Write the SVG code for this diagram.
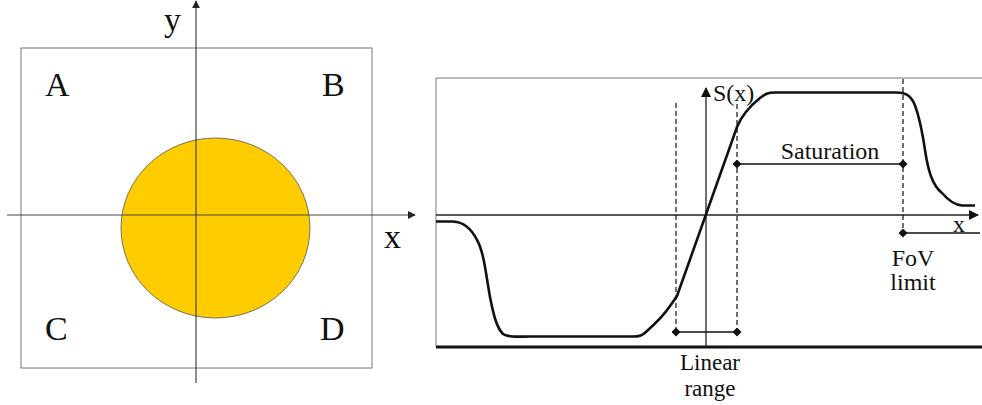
<svg xmlns="http://www.w3.org/2000/svg" width="982" height="405" viewBox="0 0 982 405">
<style>
.ax{stroke:#444;stroke-width:1.2;fill:none}
.dash{stroke:#111;stroke-width:1.2;stroke-dasharray:5,3;fill:none}
.dim{stroke:#111;stroke-width:1.3;fill:none}
</style>
<defs>
<marker id="arr" viewBox="0 0 10 10" refX="9" refY="5" markerWidth="8" markerHeight="8" markerUnits="userSpaceOnUse" orient="auto"><path d="M0,0 L10,5 L0,10 z" fill="#222"/></marker>
<marker id="arr2" viewBox="0 0 10 10" refX="9" refY="5" markerWidth="10" markerHeight="10" markerUnits="userSpaceOnUse" orient="auto"><path d="M0,0 L10,5 L0,10 z" fill="#111"/></marker>
<marker id="dia" viewBox="0 0 10 10" refX="5" refY="5" markerWidth="9" markerHeight="9" markerUnits="userSpaceOnUse" orient="auto"><path d="M5,0 L10,5 L5,10 L0,5 z" fill="#111"/></marker>
</defs>
<rect width="982" height="405" fill="#fff"/>
<g id="left-panel">
<rect x="21" y="48" width="351" height="320" fill="none" stroke="#777" stroke-width="1"/>
<ellipse cx="215.5" cy="228" rx="94.5" ry="90" fill="#FFCC00" stroke="#555" stroke-width="0.8"/>
<g id="left-axes">
<line class="ax" x1="7" y1="215" x2="415" y2="215" marker-end="url(#arr)"/>
<line class="ax" x1="196" y1="383" x2="196" y2="1" marker-end="url(#arr)"/>
</g>
<g font-family="Liberation Serif" font-size="34" fill="#111">
<text x="164" y="31">y</text>
<text x="384" y="248">x</text>
<text x="45" y="96">A</text>
<text x="322" y="96">B</text>
<text x="45" y="340">C</text>
<text x="320" y="340">D</text>
</g>
</g>
<g id="right-panel">
<path d="M436,347 L436,78 L985,78" fill="none" stroke="#777" stroke-width="1"/>
<line x1="436" y1="347" x2="982" y2="347" stroke="#111" stroke-width="3"/>
<g id="right-axes">
<line x1="436" y1="215" x2="978" y2="215" stroke="#222" stroke-width="1.3" marker-end="url(#arr2)"/>
<line x1="706" y1="347" x2="706" y2="88" stroke="#222" stroke-width="1.3" marker-end="url(#arr2)"/>
</g>
<g id="connectors">
<line class="dash" x1="676" y1="103" x2="676" y2="332"/>
<line class="dash" x1="737" y1="104" x2="737" y2="332"/>
<line class="dash" x1="903" y1="79" x2="903" y2="233"/>
<line class="dim" x1="676" y1="332" x2="737" y2="332" marker-start="url(#dia)" marker-end="url(#dia)"/>
<line class="dim" x1="737" y1="164" x2="903" y2="164" marker-start="url(#dia)" marker-end="url(#dia)"/>
<line class="dim" x1="903" y1="233" x2="980" y2="233" marker-start="url(#dia)"/>
</g>
<path id="curve" d="M436,221.5 L453,221.5 C464,222 472,230 477,240 C484,252 486,275 490,297 C493,312 496,327 503,334 C507,337 515,337 530,336.5 L630,336.5 C640,337 643,335 647,331 C656,323 664,315 670,306 C673,302 675,299 677,296 L737,127 C742,115 750,106 760,98 C765,94 768,92.5 775,92.5 L895,92.5 C905,92 910,95 914,103 C919,115 922,130 925,150 C928,170 932,185 942,193 C948,200 955,205 962,205.5 L975,205.5" fill="none" stroke="#111" stroke-width="2.6" stroke-linejoin="round"/>
<g font-family="Liberation Serif" font-size="24" fill="#111">
<text x="713" y="101">S(x)</text>
<text x="830" y="159" text-anchor="middle">Saturation</text>
<text x="953" y="232">x</text>
<text x="913" y="266" text-anchor="middle">FoV</text>
<text x="913" y="290" text-anchor="middle">limit</text>
<text x="710" y="370" text-anchor="middle" font-size="23">Linear</text>
<text x="710" y="396" text-anchor="middle" font-size="23">range</text>
</g>
</g>
</svg>
